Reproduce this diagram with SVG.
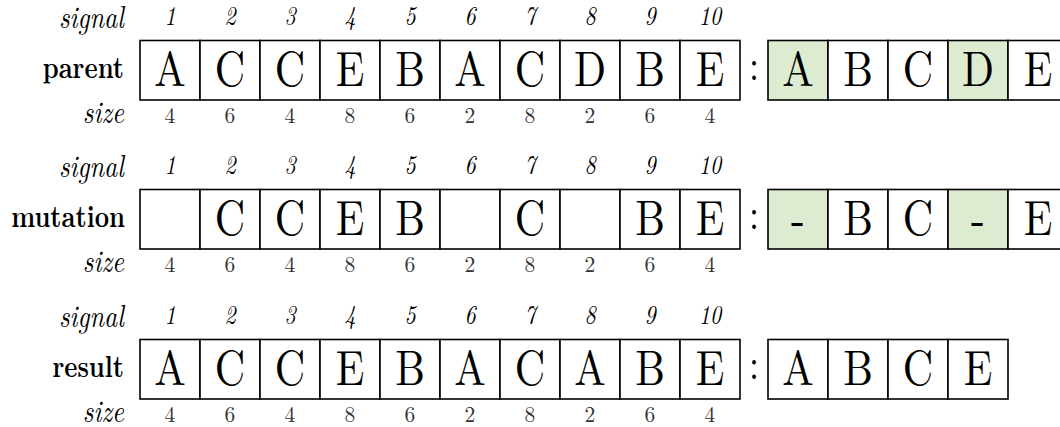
<svg xmlns="http://www.w3.org/2000/svg" width="1060" height="427" viewBox="0 0 1060 427" font-family="Latin Modern Roman, Liberation Serif, serif">
<style>
.cell{fill:#fff;stroke:#000;stroke-width:1.6}
.hl{fill:#ddebd1;stroke:#000;stroke-width:1.6}
.let{font-size:42px;text-anchor:middle;fill:#000}
.lab{font-size:25px;font-weight:bold;text-anchor:end;fill:#000}
.it{font-size:26px;font-style:italic;text-anchor:end;fill:#000}
.sig{font-size:22px;font-style:italic;text-anchor:middle;fill:#000}
.sz{font-size:21.5px;text-anchor:middle;fill:#333}
.col{font-size:36px;text-anchor:middle;fill:#000}
</style>
<rect width="1060" height="427" fill="#fff"/>

<!-- Row 1: parent -->
<g id="parent">
<g id="parent-labels">
<text class="it" transform="translate(124,28.3) scale(1,1.2)">signal</text>
<text class="lab" transform="translate(124,78.3) scale(1,1.2)">parent</text>
<text class="it" transform="translate(124,123.3) scale(1,1.2)">size</text>
</g>
<g id="parent-signal">
<text class="sig" transform="translate(170,25) scale(1,1.2)">1</text><text class="sig" transform="translate(230,25) scale(1,1.2)">2</text><text class="sig" transform="translate(290,25) scale(1,1.2)">3</text><text class="sig" transform="translate(350,25) scale(1,1.2)">4</text><text class="sig" transform="translate(410,25) scale(1,1.2)">5</text><text class="sig" transform="translate(470,25) scale(1,1.2)">6</text><text class="sig" transform="translate(530,25) scale(1,1.2)">7</text><text class="sig" transform="translate(590,25) scale(1,1.2)">8</text><text class="sig" transform="translate(650,25) scale(1,1.2)">9</text><text class="sig" transform="translate(710,25) scale(1,1.2)">10</text>
</g>
<g id="parent-cells">
<rect class="cell" x="140" y="40.5" width="60" height="59.5"/><rect class="cell" x="200" y="40.5" width="60" height="59.5"/><rect class="cell" x="260" y="40.5" width="60" height="59.5"/><rect class="cell" x="320" y="40.5" width="60" height="59.5"/><rect class="cell" x="380" y="40.5" width="60" height="59.5"/><rect class="cell" x="440" y="40.5" width="60" height="59.5"/><rect class="cell" x="500" y="40.5" width="60" height="59.5"/><rect class="cell" x="560" y="40.5" width="60" height="59.5"/><rect class="cell" x="620" y="40.5" width="60" height="59.5"/><rect class="cell" x="680" y="40.5" width="60" height="59.5"/>
<text class="let" transform="translate(170,86.3) scale(1,1.18)">A</text>
<text class="let" transform="translate(230,86.3) scale(1,1.18)">C</text>
<text class="let" transform="translate(290,86.3) scale(1,1.18)">C</text>
<text class="let" transform="translate(350,86.3) scale(1,1.18)">E</text>
<text class="let" transform="translate(410,86.3) scale(1,1.18)">B</text>
<text class="let" transform="translate(470,86.3) scale(1,1.18)">A</text>
<text class="let" transform="translate(530,86.3) scale(1,1.18)">C</text>
<text class="let" transform="translate(590,86.3) scale(1,1.18)">D</text>
<text class="let" transform="translate(650,86.3) scale(1,1.18)">B</text>
<text class="let" transform="translate(710,86.3) scale(1,1.18)">E</text>
</g>
<g id="parent-size">
<text class="sz" x="170" y="123.3">4</text><text class="sz" x="230" y="123.3">6</text><text class="sz" x="290" y="123.3">4</text><text class="sz" x="350" y="123.3">8</text><text class="sz" x="410" y="123.3">6</text><text class="sz" x="470" y="123.3">2</text><text class="sz" x="530" y="123.3">8</text><text class="sz" x="590" y="123.3">2</text><text class="sz" x="650" y="123.3">6</text><text class="sz" x="710" y="123.3">4</text>
</g>
<text class="col" transform="translate(754,80) scale(1,1.2)">:</text>
<g id="parent-set">
<rect class="hl" x="768" y="40.5" width="60" height="59.5"/><rect class="cell" x="828" y="40.5" width="60" height="59.5"/><rect class="cell" x="888" y="40.5" width="60" height="59.5"/><rect class="hl" x="948" y="40.5" width="60" height="59.5"/><rect class="cell" x="1008" y="40.5" width="60" height="59.5"/>
<text class="let" transform="translate(798,86.3) scale(1,1.18)">A</text>
<text class="let" transform="translate(858,86.3) scale(1,1.18)">B</text>
<text class="let" transform="translate(918,86.3) scale(1,1.18)">C</text>
<text class="let" transform="translate(978,86.3) scale(1,1.18)">D</text>
<text class="let" transform="translate(1038,86.3) scale(1,1.18)">E</text>
</g>
</g>

<!-- Row 2: mutation -->
<g id="mutation">
<g id="mutation-labels">
<text class="it" transform="translate(124,177.3) scale(1,1.2)">signal</text>
<text class="lab" transform="translate(125,227.3) scale(1,1.2)">mutation</text>
<text class="it" transform="translate(124,272.3) scale(1,1.2)">size</text>
</g>
<g id="mutation-signal">
<text class="sig" transform="translate(170,174) scale(1,1.2)">1</text><text class="sig" transform="translate(230,174) scale(1,1.2)">2</text><text class="sig" transform="translate(290,174) scale(1,1.2)">3</text><text class="sig" transform="translate(350,174) scale(1,1.2)">4</text><text class="sig" transform="translate(410,174) scale(1,1.2)">5</text><text class="sig" transform="translate(470,174) scale(1,1.2)">6</text><text class="sig" transform="translate(530,174) scale(1,1.2)">7</text><text class="sig" transform="translate(590,174) scale(1,1.2)">8</text><text class="sig" transform="translate(650,174) scale(1,1.2)">9</text><text class="sig" transform="translate(710,174) scale(1,1.2)">10</text>
</g>
<g id="mutation-cells">
<rect class="cell" x="140" y="189.5" width="60" height="59.5"/><rect class="cell" x="200" y="189.5" width="60" height="59.5"/><rect class="cell" x="260" y="189.5" width="60" height="59.5"/><rect class="cell" x="320" y="189.5" width="60" height="59.5"/><rect class="cell" x="380" y="189.5" width="60" height="59.5"/><rect class="cell" x="440" y="189.5" width="60" height="59.5"/><rect class="cell" x="500" y="189.5" width="60" height="59.5"/><rect class="cell" x="560" y="189.5" width="60" height="59.5"/><rect class="cell" x="620" y="189.5" width="60" height="59.5"/><rect class="cell" x="680" y="189.5" width="60" height="59.5"/>
<text class="let" transform="translate(230,235.3) scale(1,1.18)">C</text>
<text class="let" transform="translate(290,235.3) scale(1,1.18)">C</text>
<text class="let" transform="translate(350,235.3) scale(1,1.18)">E</text>
<text class="let" transform="translate(410,235.3) scale(1,1.18)">B</text>
<text class="let" transform="translate(530,235.3) scale(1,1.18)">C</text>
<text class="let" transform="translate(650,235.3) scale(1,1.18)">B</text>
<text class="let" transform="translate(710,235.3) scale(1,1.18)">E</text>
</g>
<g id="mutation-size">
<text class="sz" x="170" y="272.3">4</text><text class="sz" x="230" y="272.3">6</text><text class="sz" x="290" y="272.3">4</text><text class="sz" x="350" y="272.3">8</text><text class="sz" x="410" y="272.3">6</text><text class="sz" x="470" y="272.3">2</text><text class="sz" x="530" y="272.3">8</text><text class="sz" x="590" y="272.3">2</text><text class="sz" x="650" y="272.3">6</text><text class="sz" x="710" y="272.3">4</text>
</g>
<text class="col" transform="translate(754,229) scale(1,1.2)">:</text>
<g id="mutation-set">
<rect class="hl" x="768" y="189.5" width="60" height="59.5"/><rect class="cell" x="828" y="189.5" width="60" height="59.5"/><rect class="cell" x="888" y="189.5" width="60" height="59.5"/><rect class="hl" x="948" y="189.5" width="60" height="59.5"/><rect class="cell" x="1008" y="189.5" width="60" height="59.5"/>
<text class="let" transform="translate(798,235.3) scale(1,1.18)">-</text>
<text class="let" transform="translate(858,235.3) scale(1,1.18)">B</text>
<text class="let" transform="translate(918,235.3) scale(1,1.18)">C</text>
<text class="let" transform="translate(978,235.3) scale(1,1.18)">-</text>
<text class="let" transform="translate(1038,235.3) scale(1,1.18)">E</text>
</g>
</g>

<!-- Row 3: result -->
<g id="result">
<g id="result-labels">
<text class="it" transform="translate(124,327.3) scale(1,1.2)">signal</text>
<text class="lab" transform="translate(124,377.3) scale(1,1.2)">result</text>
<text class="it" transform="translate(124,422.3) scale(1,1.2)">size</text>
</g>
<g id="result-signal">
<text class="sig" transform="translate(170,324) scale(1,1.2)">1</text><text class="sig" transform="translate(230,324) scale(1,1.2)">2</text><text class="sig" transform="translate(290,324) scale(1,1.2)">3</text><text class="sig" transform="translate(350,324) scale(1,1.2)">4</text><text class="sig" transform="translate(410,324) scale(1,1.2)">5</text><text class="sig" transform="translate(470,324) scale(1,1.2)">6</text><text class="sig" transform="translate(530,324) scale(1,1.2)">7</text><text class="sig" transform="translate(590,324) scale(1,1.2)">8</text><text class="sig" transform="translate(650,324) scale(1,1.2)">9</text><text class="sig" transform="translate(710,324) scale(1,1.2)">10</text>
</g>
<g id="result-cells">
<rect class="cell" x="140" y="339.5" width="60" height="59.5"/><rect class="cell" x="200" y="339.5" width="60" height="59.5"/><rect class="cell" x="260" y="339.5" width="60" height="59.5"/><rect class="cell" x="320" y="339.5" width="60" height="59.5"/><rect class="cell" x="380" y="339.5" width="60" height="59.5"/><rect class="cell" x="440" y="339.5" width="60" height="59.5"/><rect class="cell" x="500" y="339.5" width="60" height="59.5"/><rect class="cell" x="560" y="339.5" width="60" height="59.5"/><rect class="cell" x="620" y="339.5" width="60" height="59.5"/><rect class="cell" x="680" y="339.5" width="60" height="59.5"/>
<text class="let" transform="translate(170,385.3) scale(1,1.18)">A</text>
<text class="let" transform="translate(230,385.3) scale(1,1.18)">C</text>
<text class="let" transform="translate(290,385.3) scale(1,1.18)">C</text>
<text class="let" transform="translate(350,385.3) scale(1,1.18)">E</text>
<text class="let" transform="translate(410,385.3) scale(1,1.18)">B</text>
<text class="let" transform="translate(470,385.3) scale(1,1.18)">A</text>
<text class="let" transform="translate(530,385.3) scale(1,1.18)">C</text>
<text class="let" transform="translate(590,385.3) scale(1,1.18)">A</text>
<text class="let" transform="translate(650,385.3) scale(1,1.18)">B</text>
<text class="let" transform="translate(710,385.3) scale(1,1.18)">E</text>
</g>
<g id="result-size">
<text class="sz" x="170" y="422.3">4</text><text class="sz" x="230" y="422.3">6</text><text class="sz" x="290" y="422.3">4</text><text class="sz" x="350" y="422.3">8</text><text class="sz" x="410" y="422.3">6</text><text class="sz" x="470" y="422.3">2</text><text class="sz" x="530" y="422.3">8</text><text class="sz" x="590" y="422.3">2</text><text class="sz" x="650" y="422.3">6</text><text class="sz" x="710" y="422.3">4</text>
</g>
<text class="col" transform="translate(754,379) scale(1,1.2)">:</text>
<g id="result-set">
<rect class="cell" x="768" y="339.5" width="60" height="59.5"/><rect class="cell" x="828" y="339.5" width="60" height="59.5"/><rect class="cell" x="888" y="339.5" width="60" height="59.5"/><rect class="cell" x="948" y="339.5" width="60" height="59.5"/>
<text class="let" transform="translate(798,385.3) scale(1,1.18)">A</text>
<text class="let" transform="translate(858,385.3) scale(1,1.18)">B</text>
<text class="let" transform="translate(918,385.3) scale(1,1.18)">C</text>
<text class="let" transform="translate(978,385.3) scale(1,1.18)">E</text>
</g>
</g>
<g id="connectors"/>
</svg>
